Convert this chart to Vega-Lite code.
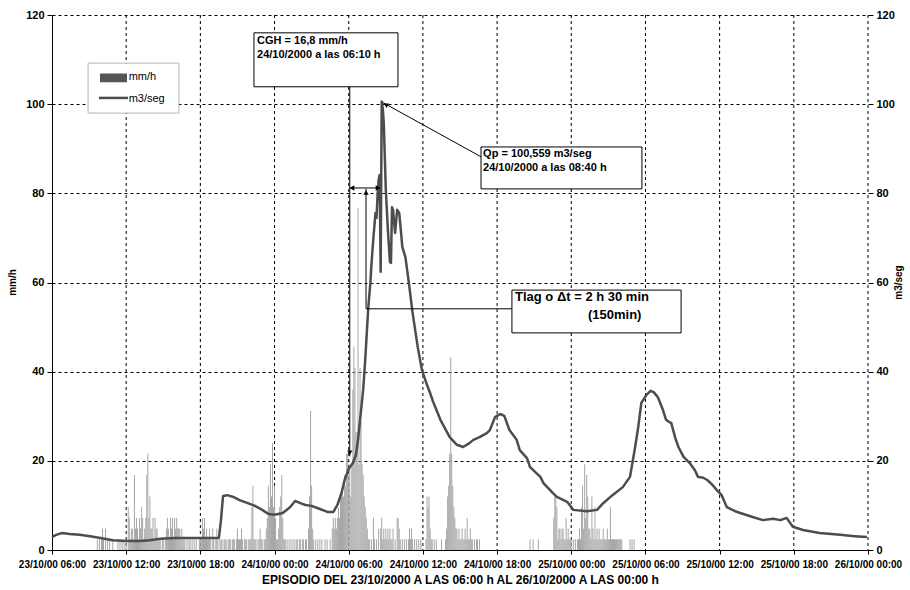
{
  "$schema": "https://vega.github.io/schema/vega-lite/v6.json",
  "width": 816,
  "height": 535,
  "autosize": {"type": "none"},
  "padding": {"left": 52, "top": 15, "right": 42, "bottom": 40},
  "background": "white",
  "config": {
    "font": "Liberation Sans",
    "view": {"stroke": null},
    "axis": {"labelFont": "Liberation Sans", "labelFontWeight": "bold", "labelColor": "black", "titleFont": "Liberation Sans", "titleFontWeight": "bold", "titleColor": "black", "tickColor": "black", "domainColor": "black", "gridColor": "black", "gridDash": [3, 3], "gridOpacity": 1, "gridWidth": 1},
    "axisX": {"labelFontSize": 10, "tickSize": 4, "labelPadding": 5, "grid": false, "labelOverlap": false, "labelFlush": false, "labelBound": false},
    "axisY": {"labelFontSize": 11, "tickSize": 5, "labelPadding": 3}
  },
  "datasets": {
    "ticks": [{"m":360},{"m":720},{"m":1080},{"m":1440},{"m":1800},{"m":2160},{"m":2520},{"m":2880},{"m":3240},{"m":3600},{"m":3960}],
    "rain": [
      {"m":220,"p":2.4},{"m":230,"p":2.4},{"m":240,"p":2.4},{"m":245,"p":4.8},{"m":250,"p":2.4},{"m":260,"p":4.8},{"m":270,"p":2.4},{"m":280,"p":2.4},{"m":295,"p":2.4},{"m":320,"p":2.4},{"m":330,"p":2.4},{"m":340,"p":2.4},{"m":350,"p":2.4},{"m":360,"p":2.4},
      {"m":370,"p":9.6},{"m":375,"p":7.2},{"m":380,"p":2.4},{"m":385,"p":4.8},{"m":390,"p":4.8},{"m":395,"p":2.4},{"m":400,"p":16.8},{"m":405,"p":4.8},{"m":410,"p":7.2},{"m":415,"p":4.8},{"m":420,"p":2.4},{"m":425,"p":7.2},{"m":430,"p":4.8},{"m":435,"p":9.6},{"m":440,"p":7.2},{"m":445,"p":2.4},{"m":450,"p":4.8},{"m":455,"p":7.2},{"m":460,"p":16.8},{"m":465,"p":21.6},{"m":470,"p":7.2},{"m":475,"p":12},{"m":480,"p":4.8},{"m":485,"p":4.8},{"m":490,"p":7.2},{"m":495,"p":2.4},{"m":500,"p":7.2},{"m":505,"p":4.8},{"m":510,"p":4.8},{"m":515,"p":2.4},{"m":520,"p":2.4},{"m":525,"p":2.4},{"m":535,"p":2.4},{"m":540,"p":2.4},{"m":550,"p":2.4},{"m":555,"p":4.8},{"m":560,"p":7.2},{"m":565,"p":4.8},{"m":570,"p":2.4},{"m":575,"p":7.2},{"m":580,"p":4.8},{"m":585,"p":7.2},{"m":590,"p":2.4},{"m":595,"p":7.2},{"m":600,"p":4.8},{"m":605,"p":7.2},{"m":610,"p":4.8},{"m":615,"p":4.8},{"m":620,"p":4.8},{"m":625,"p":2.4},{"m":630,"p":4.8},{"m":635,"p":2.4},{"m":640,"p":2.4},{"m":645,"p":2.4},{"m":655,"p":2.4},{"m":665,"p":2.4},{"m":670,"p":2.4},{"m":680,"p":2.4},{"m":690,"p":2.4},{"m":700,"p":2.4},{"m":715,"p":2.4},
      {"m":720,"p":2.4},{"m":725,"p":2.4},{"m":730,"p":7.2},{"m":735,"p":4.8},{"m":740,"p":7.2},{"m":745,"p":2.4},{"m":750,"p":4.8},{"m":755,"p":2.4},{"m":760,"p":2.4},{"m":765,"p":4.8},{"m":770,"p":2.4},{"m":780,"p":4.8},{"m":785,"p":2.4},{"m":795,"p":2.4},{"m":800,"p":4.8},{"m":805,"p":2.4},{"m":815,"p":2.4},{"m":820,"p":2.4},{"m":825,"p":2.4},{"m":835,"p":2.4},{"m":840,"p":2.4},{"m":845,"p":2.4},{"m":855,"p":2.4},{"m":860,"p":2.4},{"m":865,"p":2.4},{"m":875,"p":2.4},{"m":880,"p":2.4},{"m":885,"p":2.4},{"m":895,"p":2.4},{"m":900,"p":4.8},{"m":905,"p":2.4},{"m":910,"p":2.4},{"m":915,"p":2.4},{"m":920,"p":4.8},{"m":925,"p":2.4},{"m":935,"p":2.4},{"m":940,"p":2.4},{"m":945,"p":2.4},{"m":955,"p":2.4},{"m":960,"p":2.4},{"m":965,"p":2.4},{"m":970,"p":9.6},{"m":975,"p":14.4},{"m":980,"p":2.4},{"m":985,"p":2.4},{"m":990,"p":2.4},{"m":1000,"p":2.4},{"m":1005,"p":2.4},{"m":1010,"p":4.8},{"m":1015,"p":2.4},{"m":1020,"p":2.4},{"m":1030,"p":2.4},{"m":1035,"p":2.4},
      {"m":1040,"p":4.8},{"m":1045,"p":7.2},{"m":1050,"p":14.4},{"m":1055,"p":9.6},{"m":1060,"p":19.2},{"m":1065,"p":12},{"m":1070,"p":24},{"m":1075,"p":9.6},{"m":1080,"p":14.4},{"m":1085,"p":7.2},{"m":1090,"p":2.4},{"m":1095,"p":2.4},{"m":1100,"p":4.8},{"m":1105,"p":9.6},{"m":1110,"p":12},{"m":1115,"p":16.8},{"m":1120,"p":7.2},{"m":1125,"p":2.4},{"m":1130,"p":2.4},{"m":1135,"p":2.4},{"m":1145,"p":2.4},{"m":1155,"p":2.4},{"m":1165,"p":2.4},{"m":1175,"p":2.4},{"m":1185,"p":2.4},{"m":1190,"p":2.4},{"m":1200,"p":2.4},{"m":1205,"p":2.4},{"m":1215,"p":2.4},{"m":1220,"p":2.4},{"m":1230,"p":2.4},{"m":1235,"p":2.4},{"m":1245,"p":4.8},{"m":1250,"p":12},{"m":1255,"p":31.2},{"m":1260,"p":14.4},{"m":1265,"p":4.8},{"m":1270,"p":2.4},{"m":1280,"p":2.4},{"m":1290,"p":2.4},{"m":1300,"p":2.4},{"m":1310,"p":2.4},{"m":1325,"p":2.4},{"m":1335,"p":2.4},
      {"m":1350,"p":2.4},{"m":1360,"p":4.8},{"m":1365,"p":7.2},{"m":1370,"p":4.8},{"m":1375,"p":7.2},{"m":1380,"p":4.8},{"m":1385,"p":7.2},{"m":1390,"p":9.6},{"m":1395,"p":7.2},{"m":1400,"p":12},{"m":1405,"p":12},{"m":1410,"p":14.4},{"m":1415,"p":12},{"m":1420,"p":16.8},{"m":1425,"p":14.4},{"m":1430,"p":21.6},{"m":1435,"p":21.6},{"m":1440,"p":16.8},{"m":1445,"p":19.2},{"m":1450,"p":12},{"m":1455,"p":19.2},{"m":1460,"p":36},{"m":1465,"p":45.6},{"m":1470,"p":40.8},{"m":1475,"p":26.4},{"m":1480,"p":26.4},{"m":1485,"p":76.8},{"m":1490,"p":19.2},{"m":1495,"p":40.8},{"m":1500,"p":28.8},{"m":1505,"p":19.2},{"m":1510,"p":16.8},{"m":1515,"p":12},{"m":1520,"p":9.6},{"m":1525,"p":7.2},{"m":1530,"p":4.8},{"m":1535,"p":2.4},{"m":1540,"p":2.4},{"m":1550,"p":2.4},
      {"m":1560,"p":7.2},{"m":1565,"p":2.4},{"m":1575,"p":2.4},{"m":1585,"p":4.8},{"m":1595,"p":4.8},{"m":1600,"p":7.2},{"m":1605,"p":2.4},{"m":1610,"p":4.8},{"m":1615,"p":2.4},{"m":1620,"p":4.8},{"m":1625,"p":2.4},{"m":1630,"p":4.8},{"m":1635,"p":2.4},{"m":1640,"p":4.8},{"m":1645,"p":2.4},{"m":1650,"p":2.4},{"m":1655,"p":4.8},{"m":1665,"p":2.4},{"m":1675,"p":7.2},{"m":1680,"p":7.2},{"m":1685,"p":4.8},{"m":1690,"p":2.4},{"m":1700,"p":2.4},{"m":1710,"p":2.4},{"m":1720,"p":2.4},{"m":1730,"p":2.4},{"m":1735,"p":4.8},{"m":1740,"p":2.4},{"m":1745,"p":4.8},{"m":1750,"p":2.4},{"m":1760,"p":2.4},{"m":1770,"p":2.4},{"m":1780,"p":2.4},{"m":1790,"p":2.4},
      {"m":1815,"p":2.4},{"m":1820,"p":12},{"m":1825,"p":9.6},{"m":1830,"p":12},{"m":1835,"p":4.8},{"m":1840,"p":2.4},{"m":1845,"p":2.4},{"m":1855,"p":2.4},{"m":1865,"p":2.4},{"m":1890,"p":2.4},
      {"m":1910,"p":2.4},{"m":1915,"p":4.8},{"m":1920,"p":12},{"m":1925,"p":14.4},{"m":1930,"p":21.6},{"m":1935,"p":43.2},{"m":1940,"p":21.6},{"m":1945,"p":14.4},{"m":1950,"p":9.6},{"m":1955,"p":7.2},{"m":1960,"p":4.8},{"m":1965,"p":4.8},{"m":1970,"p":2.4},{"m":1975,"p":4.8},{"m":1980,"p":2.4},{"m":1985,"p":2.4},{"m":1990,"p":4.8},{"m":1995,"p":2.4},{"m":2000,"p":2.4},{"m":2005,"p":4.8},{"m":2010,"p":2.4},{"m":2015,"p":7.2},{"m":2020,"p":2.4},{"m":2025,"p":2.4},{"m":2030,"p":4.8},{"m":2035,"p":2.4},{"m":2040,"p":2.4},{"m":2050,"p":2.4},{"m":2060,"p":2.4},{"m":2065,"p":2.4},{"m":2075,"p":2.4},
      {"m":2320,"p":2.4},{"m":2335,"p":2.4},{"m":2360,"p":2.4},
      {"m":2435,"p":7.2},{"m":2440,"p":12},{"m":2445,"p":12},{"m":2450,"p":9.6},{"m":2455,"p":2.4},{"m":2460,"p":4.8},{"m":2465,"p":4.8},{"m":2470,"p":2.4},{"m":2475,"p":4.8},{"m":2480,"p":4.8},{"m":2485,"p":2.4},{"m":2490,"p":2.4},{"m":2495,"p":7.2},{"m":2500,"p":2.4},{"m":2505,"p":4.8},{"m":2510,"p":2.4},{"m":2515,"p":2.4},{"m":2520,"p":2.4},{"m":2530,"p":2.4},{"m":2540,"p":2.4},{"m":2550,"p":2.4},{"m":2555,"p":2.4},{"m":2560,"p":4.8},{"m":2565,"p":2.4},{"m":2570,"p":9.6},{"m":2575,"p":14.4},{"m":2580,"p":4.8},{"m":2585,"p":19.2},{"m":2590,"p":7.2},{"m":2595,"p":16.8},{"m":2600,"p":12},{"m":2605,"p":4.8},{"m":2610,"p":4.8},{"m":2615,"p":2.4},{"m":2620,"p":12},{"m":2625,"p":4.8},{"m":2630,"p":2.4},{"m":2635,"p":9.6},{"m":2640,"p":2.4},{"m":2645,"p":4.8},{"m":2650,"p":2.4},{"m":2655,"p":4.8},{"m":2660,"p":2.4},{"m":2665,"p":2.4},{"m":2670,"p":2.4},{"m":2675,"p":4.8},{"m":2680,"p":2.4},{"m":2685,"p":2.4},{"m":2690,"p":2.4},{"m":2695,"p":4.8},{"m":2700,"p":2.4},{"m":2705,"p":2.4},{"m":2710,"p":9.6},{"m":2715,"p":2.4},{"m":2720,"p":2.4},{"m":2725,"p":2.4},{"m":2730,"p":2.4},{"m":2735,"p":2.4},{"m":2740,"p":2.4},{"m":2745,"p":2.4},{"m":2750,"p":2.4},{"m":2755,"p":2.4},{"m":2760,"p":2.4},{"m":2765,"p":2.4},{"m":2805,"p":2.4},{"m":2815,"p":2.4},{"m":2825,"p":2.4}
    ],
    "flow": [
      {"m":0,"q":2.9},{"m":20,"q":3.4},{"m":50,"q":3.8},{"m":85,"q":3.6},{"m":135,"q":3.4},{"m":185,"q":3.1},{"m":235,"q":2.7},{"m":295,"q":2.2},{"m":360,"q":2.0},{"m":425,"q":2.0},{"m":475,"q":2.2},{"m":525,"q":2.5},{"m":595,"q":2.7},{"m":670,"q":2.7},{"m":740,"q":2.7},{"m":810,"q":2.7},{"m":820,"q":6.7},{"m":830,"q":12.1},{"m":850,"q":12.3},{"m":880,"q":11.9},{"m":910,"q":11.2},{"m":950,"q":10.5},{"m":985,"q":9.9},{"m":1020,"q":9.0},{"m":1050,"q":8.1},{"m":1080,"q":7.9},{"m":1120,"q":8.3},{"m":1155,"q":9.6},{"m":1180,"q":11.0},{"m":1205,"q":10.5},{"m":1230,"q":10.1},{"m":1260,"q":9.9},{"m":1300,"q":9.2},{"m":1340,"q":8.5},{"m":1365,"q":8.5},{"m":1385,"q":10.1},{"m":1405,"q":12.8},{"m":1420,"q":15.7},{"m":1440,"q":18.2},{"m":1460,"q":19.5},{"m":1475,"q":21.3},{"m":1485,"q":24.7},{"m":1495,"q":29.2},{"m":1510,"q":35.9},{"m":1520,"q":42.6},{"m":1535,"q":54.5},{"m":1545,"q":59.9},{"m":1550,"q":63.9},{"m":1560,"q":70.2},{"m":1570,"q":75.6},{"m":1575,"q":74.5},{"m":1580,"q":79.6},{"m":1585,"q":83.0},{"m":1590,"q":84.1},{"m":1595,"q":62.4},{"m":1600,"q":100.6},{"m":1605,"q":99.1},{"m":1610,"q":95.8},{"m":1620,"q":80.8},{"m":1630,"q":71.8},{"m":1640,"q":64.6},{"m":1645,"q":64.4},{"m":1650,"q":76.9},{"m":1655,"q":76.3},{"m":1665,"q":71.1},{"m":1675,"q":76.3},{"m":1685,"q":75.6},{"m":1695,"q":70.7},{"m":1700,"q":68.0},{"m":1715,"q":65.7},{"m":1730,"q":60.6},{"m":1750,"q":53.2},{"m":1775,"q":45.5},{"m":1795,"q":40.4},{"m":1820,"q":37.0},{"m":1835,"q":35.2},{"m":1850,"q":33.2},{"m":1885,"q":29.2},{"m":1930,"q":25.3},{"m":1965,"q":23.6},{"m":1995,"q":23.1},{"m":2020,"q":23.8},{"m":2045,"q":24.7},{"m":2075,"q":25.3},{"m":2110,"q":26.2},{"m":2125,"q":26.9},{"m":2150,"q":29.8},{"m":2175,"q":30.5},{"m":2195,"q":30.1},{"m":2220,"q":26.9},{"m":2255,"q":24.7},{"m":2270,"q":22.4},{"m":2305,"q":20.6},{"m":2320,"q":18.6},{"m":2370,"q":16.4},{"m":2385,"q":15.0},{"m":2430,"q":12.8},{"m":2450,"q":11.9},{"m":2500,"q":10.8},{"m":2530,"q":9.0},{"m":2595,"q":8.7},{"m":2645,"q":9.0},{"m":2675,"q":10.5},{"m":2720,"q":12.3},{"m":2770,"q":14.1},{"m":2805,"q":16.4},{"m":2830,"q":23.1},{"m":2845,"q":27.6},{"m":2860,"q":33.0},{"m":2885,"q":34.8},{"m":2905,"q":35.7},{"m":2920,"q":35.4},{"m":2940,"q":34.3},{"m":2965,"q":31.4},{"m":2980,"q":29.2},{"m":2995,"q":28.7},{"m":3005,"q":28.5},{"m":3025,"q":25.1},{"m":3040,"q":23.1},{"m":3065,"q":20.9},{"m":3095,"q":19.5},{"m":3120,"q":17.9},{"m":3135,"q":16.4},{"m":3160,"q":16.2},{"m":3180,"q":15.7},{"m":3205,"q":14.6},{"m":3225,"q":13.5},{"m":3250,"q":12.3},{"m":3275,"q":9.6},{"m":3315,"q":8.7},{"m":3340,"q":8.3},{"m":3400,"q":7.4},{"m":3450,"q":6.7},{"m":3500,"q":7.0},{"m":3535,"q":6.7},{"m":3565,"q":7.2},{"m":3595,"q":5.2},{"m":3645,"q":4.5},{"m":3725,"q":3.8},{"m":3825,"q":3.4},{"m":3895,"q":3.1},{"m":3955,"q":2.9}
    ]
  },
  "resolve": {"axis": {"y": "independent"}},
  "layer": [
    {
      "data": {"name": "ticks"},
      "mark": {"type": "rule", "color": "black", "strokeWidth": 1, "strokeDash": [3, 3]},
      "encoding": {
        "x": {"field": "m", "type": "quantitative", "scale": {"domain": [0, 3960], "nice": false, "zero": false}}
      }
    },
    {
      "data": {"name": "rain"},
      "mark": {"type": "rule", "color": "#a6a6a6", "strokeWidth": 1},
      "encoding": {
        "x": {"field": "m", "type": "quantitative", "scale": {"domain": [0, 3960], "nice": false, "zero": false},
          "axis": {"values": [0,360,720,1080,1440,1800,2160,2520,2880,3240,3600,3960], "grid": false,
            "labelExpr": "['23/10/00 06:00','23/10/00 12:00','23/10/00 18:00','24/10/00 00:00','24/10/00 06:00','24/10/00 12:00','24/10/00 18:00','25/10/00 00:00','25/10/00 06:00','25/10/00 12:00','25/10/00 18:00','26/10/00 00:00'][round(datum.value / 360)]",
            "title": "EPISODIO DEL 23/10/2000 A LAS 06:00 h AL 26/10/2000 A LAS 00:00 h", "titleFontSize": 12, "titlePadding": 5}},
        "y": {"field": "p", "type": "quantitative", "scale": {"domain": [0, 120], "nice": false},
          "axis": {"orient": "left", "values": [0,20,40,60,80,100,120], "grid": true,
            "title": "mm/h", "titleFontSize": 10, "titleAngle": 270, "titleX": -40, "titleY": 267, "titleBaseline": "middle", "titleAlign": "center"}},
        "y2": {"datum": 0}
      }
    },
    {
      "data": {"name": "flow"},
      "mark": {"type": "line", "color": "#4d4d4d", "strokeWidth": 2.5, "strokeJoin": "round"},
      "encoding": {
        "x": {"field": "m", "type": "quantitative", "scale": {"domain": [0, 3960], "nice": false, "zero": false}},
        "y": {"field": "q", "type": "quantitative", "scale": {"domain": [0, 120], "nice": false},
          "axis": {"orient": "right", "values": [0,20,40,60,80,100,120], "domain": false, "grid": false,
            "title": "m3/seg", "titleFontSize": 10, "titleAngle": 270, "titleX": 30, "titleY": 267, "titleBaseline": "middle", "titleAlign": "center"}}
      }
    },
    {
      "data": {"values": [
        {"x": 1445, "y": 103.9, "x2": 1445, "y2": 21.0},
        {"x": 1446, "y": 81.2, "x2": 1592, "y2": 81.2},
        {"x": 1524, "y": 54.1, "x2": 1524, "y2": 81.0},
        {"x": 1524, "y": 54.1, "x2": 2232, "y2": 54.1},
        {"x": 1604, "y": 100.4, "x2": 2082, "y2": 88.2}
      ]},
      "mark": {"type": "rule", "color": "black", "strokeWidth": 1},
      "encoding": {
        "x": {"field": "x", "type": "quantitative", "scale": {"domain": [0, 3960], "nice": false, "zero": false}},
        "x2": {"field": "x2"},
        "y": {"field": "y", "type": "quantitative", "scale": {"domain": [0, 120], "nice": false}, "axis": null},
        "y2": {"field": "y2"}
      }
    },
    {
      "data": {"values": [
        {"x": 1445, "y": 21.8, "dir": "down"},
        {"x": 1456, "y": 81.2, "dir": "left"},
        {"x": 1582, "y": 81.2, "dir": "right"},
        {"x": 1524, "y": 80.2, "dir": "up"}
      ]},
      "mark": {"type": "point", "filled": true, "color": "black", "opacity": 1, "size": 28},
      "encoding": {
        "x": {"field": "x", "type": "quantitative", "scale": {"domain": [0, 3960], "nice": false, "zero": false}},
        "y": {"field": "y", "type": "quantitative", "scale": {"domain": [0, 120], "nice": false}, "axis": null},
        "shape": {"field": "dir", "type": "nominal", "scale": {"domain": ["down", "left", "right", "up"], "range": ["triangle-down", "triangle-left", "triangle-right", "triangle-up"]}, "legend": null}
      }
    },
    {
      "data": {"values": [{"x": 1620, "y": 99.9}]},
      "mark": {"type": "point", "filled": true, "color": "black", "opacity": 1, "size": 28, "shape": "triangle-left", "angle": 30},
      "encoding": {
        "x": {"field": "x", "type": "quantitative", "scale": {"domain": [0, 3960], "nice": false, "zero": false}},
        "y": {"field": "y", "type": "quantitative", "scale": {"domain": [0, 120], "nice": false}, "axis": null}
      }
    },
    {
      "data": {"values": [
        {"x": 980, "x2": 1679, "y": 116.0, "y2": 103.9},
        {"x": 2082, "x2": 2863, "y": 90.4, "y2": 81.0},
        {"x": 2232, "x2": 3053, "y": 58.3, "y2": 48.7}
      ]},
      "mark": {"type": "rect", "fill": "white", "stroke": "black", "strokeWidth": 1},
      "encoding": {
        "x": {"field": "x", "type": "quantitative", "scale": {"domain": [0, 3960], "nice": false, "zero": false}},
        "x2": {"field": "x2"},
        "y": {"field": "y", "type": "quantitative", "scale": {"domain": [0, 120], "nice": false}, "axis": null},
        "y2": {"field": "y2"}
      }
    },
    {
      "data": {"values": [{"x": 175, "x2": 616, "y": 109.2, "y2": 98.0}]},
      "mark": {"type": "rect", "fill": "white", "stroke": "#b5b5b5", "strokeWidth": 1},
      "encoding": {
        "x": {"field": "x", "type": "quantitative", "scale": {"domain": [0, 3960], "nice": false, "zero": false}},
        "x2": {"field": "x2"},
        "y": {"field": "y", "type": "quantitative", "scale": {"domain": [0, 120], "nice": false}, "axis": null},
        "y2": {"field": "y2"}
      }
    },
    {
      "data": {"values": [{"x": 233, "x2": 364, "y": 106.9, "y2": 104.9}]},
      "mark": {"type": "rect", "fill": "#555555"},
      "encoding": {
        "x": {"field": "x", "type": "quantitative", "scale": {"domain": [0, 3960], "nice": false, "zero": false}},
        "x2": {"field": "x2"},
        "y": {"field": "y", "type": "quantitative", "scale": {"domain": [0, 120], "nice": false}, "axis": null},
        "y2": {"field": "y2"}
      }
    },
    {
      "data": {"values": [{"x": 228, "x2": 369, "y": 101.4, "y2": 101.4}]},
      "mark": {"type": "rule", "color": "#4d4d4d", "strokeWidth": 2.5},
      "encoding": {
        "x": {"field": "x", "type": "quantitative", "scale": {"domain": [0, 3960], "nice": false, "zero": false}},
        "x2": {"field": "x2"},
        "y": {"field": "y", "type": "quantitative", "scale": {"domain": [0, 120], "nice": false}, "axis": null},
        "y2": {"field": "y2"}
      }
    },
    {
      "data": {"values": [
        {"x": 372, "y": 106.2, "t": "mm/h"},
        {"x": 372, "y": 101.2, "t": "m3/seg"}
      ]},
      "mark": {"type": "text", "align": "left", "baseline": "middle", "fontSize": 11, "font": "Liberation Sans", "color": "black"},
      "encoding": {
        "x": {"field": "x", "type": "quantitative", "scale": {"domain": [0, 3960], "nice": false, "zero": false}},
        "y": {"field": "y", "type": "quantitative", "scale": {"domain": [0, 120], "nice": false}, "axis": null},
        "text": {"field": "t"}
      }
    },
    {
      "data": {"values": [
        {"x": 995, "y": 114.2, "t": "CGH = 16,8 mm/h"},
        {"x": 995, "y": 111.0, "t": "24/10/2000 a las 06:10 h"},
        {"x": 2092, "y": 88.8, "t": "Qp = 100,559 m3/seg"},
        {"x": 2092, "y": 85.7, "t": "24/10/2000 a las 08:40 h"}
      ]},
      "mark": {"type": "text", "align": "left", "baseline": "middle", "fontSize": 11, "fontWeight": "bold", "font": "Liberation Sans", "color": "black"},
      "encoding": {
        "x": {"field": "x", "type": "quantitative", "scale": {"domain": [0, 3960], "nice": false, "zero": false}},
        "y": {"field": "y", "type": "quantitative", "scale": {"domain": [0, 120], "nice": false}, "axis": null},
        "text": {"field": "t"}
      }
    },
    {
      "data": {"values": [
        {"x": 2247, "y": 56.8, "t": "Tlag o Δt = 2 h 30 min"},
        {"x": 2601, "y": 52.7, "t": "(150min)"}
      ]},
      "mark": {"type": "text", "align": "left", "baseline": "middle", "fontSize": 13, "fontWeight": "bold", "font": "Liberation Sans", "color": "black"},
      "encoding": {
        "x": {"field": "x", "type": "quantitative", "scale": {"domain": [0, 3960], "nice": false, "zero": false}},
        "y": {"field": "y", "type": "quantitative", "scale": {"domain": [0, 120], "nice": false}, "axis": null},
        "text": {"field": "t"}
      }
    }
  ]
}
